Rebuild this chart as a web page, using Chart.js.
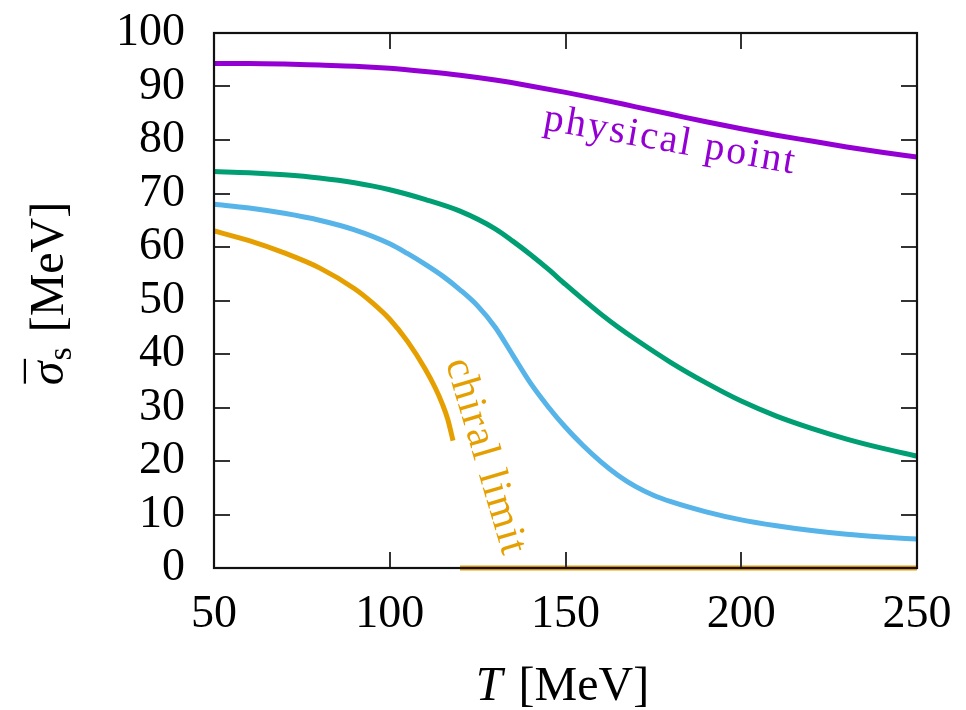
<!DOCTYPE html>
<html>
<head>
<meta charset="utf-8">
<script src="https://cdn.jsdelivr.net/npm/chart.js@4/dist/chart.umd.min.js"></script>
<style>
html,body{margin:0;padding:0;background:#ffffff;}
#wrap{width:966px;height:710px;}
</style>
</head>
<body>
<div id="wrap"><canvas id="c" width="966" height="710"></canvas></div>
<script>
// ---- data ----
const physicalT   = [50,60,70,80,90,100,110,120,130,140,150,160,170,180,190,200,210,220,230,240,250];
const physicalVal = [94.3,94.3,94.2,94.0,93.8,93.4,92.8,92.1,91.2,90.1,88.9,87.6,86.2,84.8,83.4,82.1,80.9,79.8,78.7,77.7,76.8];

const greenT   = [50,60,70,80,90,100,110,120,130,135,140,145,150,155,160,165,170,180,190,200,210,220,230,240,250];
const greenVal = [74.1,73.9,73.5,72.9,72.0,70.7,68.9,66.7,63.4,61.1,58.6,55.9,53.0,50.2,47.5,45.0,42.7,38.4,34.6,31.2,28.4,26.1,24.1,22.4,20.9];

const blueT   = [50,60,70,80,90,100,105,110,115,120,125,130,135,140,145,150,155,160,165,170,175,180,190,200,210,220,230,240,250];
const blueVal = [68.0,67.3,66.3,65.0,63.2,60.6,58.8,56.8,54.6,52.0,49.0,45.0,39.8,34.6,30.2,26.3,22.9,19.9,17.3,15.2,13.6,12.4,10.5,9.0,7.9,7.0,6.3,5.8,5.4];

const chiralT   = [50,60,70,80,90,95,100,105,110,113,115,116.5,118];
const chiralVal = [63.0,61.2,58.9,56.1,52.2,49.6,46.5,42.4,37.3,33.6,30.6,27.8,23.8];

const chiralZeroT   = [120,250];
const chiralZeroVal = [0,0];

const xTickValues = [50,100,150,200,250];
const yTickValues = [0,10,20,30,40,50,60,70,80,90,100];

const xTitleItalic = 'T';
const xTitleRest = '[MeV]';
const yTitleSymbol = 'σ';
const yTitleBar = '\u00AF';
const yTitleSub = 's';
const yTitleRest = '[MeV]';

const labelPhysical = 'physical point';
const labelChiral = 'chiral limit';
// anchor points of the curve labels, in data units (T, value)
const labelPhysicalAt = [143.4, 82.0];
const labelChiralAt = [115.9, 38.4];

// ---- helpers ----
const pts = (xs, ys) => xs.map((x, i) => ({x: x, y: ys[i]}));
const COL = {purple:'#9400D3', green:'#009E73', blue:'#56B4E9', orange:'#E69F00'};
const SERIF = '"Liberation Serif", "DejaVu Serif", serif';

const framePlugin = {
  id: 'frame',
  afterDatasetsDraw(chart) {
    const {ctx, chartArea: a, scales} = chart;
    const tl = 16;
    ctx.save();
    ctx.strokeStyle = '#333';
    ctx.lineWidth = 2;
    ctx.beginPath();
    xTickValues.forEach(v => {
      const px = Math.round(scales.x.getPixelForValue(v));
      ctx.moveTo(px, a.bottom); ctx.lineTo(px, a.bottom - tl);
      ctx.moveTo(px, a.top); ctx.lineTo(px, a.top + tl);
    });
    yTickValues.forEach(v => {
      const py = Math.round(scales.y.getPixelForValue(v));
      ctx.moveTo(a.left, py); ctx.lineTo(a.left + tl, py);
      ctx.moveTo(a.right, py); ctx.lineTo(a.right - tl, py);
    });
    ctx.stroke();
    ctx.strokeStyle = '#111';
    ctx.lineWidth = 2.2;
    ctx.strokeRect(a.left, a.top, a.right - a.left, a.bottom - a.top);
    ctx.restore();
  }
};

const textPlugin = {
  id: 'texts',
  afterDraw(chart) {
    const {ctx, chartArea: a, scales} = chart;
    ctx.save();
    ctx.fillStyle = '#000';
    const fI = 'italic 48px ' + SERIF, fR = '48px ' + SERIF;
    const gap = 16;
    // x title
    ctx.textBaseline = 'middle';
    ctx.textAlign = 'left';
    ctx.font = fI; const w1 = ctx.measureText(xTitleItalic).width;
    ctx.font = fR; const w2 = ctx.measureText(xTitleRest).width;
    const x0 = (a.left + a.right) / 2 - (w1 + gap + w2) / 2 - 3;
    const yx = 687;
    ctx.font = fI; ctx.fillText(xTitleItalic, x0, yx);
    ctx.font = fR; ctx.fillText(xTitleRest, x0 + w1 + gap, yx);

    // y title (rotated)
    ctx.save();
    const cy = (a.top + a.bottom) / 2 - 7;
    ctx.translate(47, cy);
    ctx.rotate(-Math.PI / 2);
    const fSub = '34px ' + SERIF;
    ctx.font = fI; const s1 = ctx.measureText(yTitleSymbol).width;
    ctx.font = fSub; const s2 = ctx.measureText(yTitleSub).width;
    ctx.font = fR; const s3 = ctx.measureText(yTitleRest).width;
    const lx = -(s1 + s2 + gap + s3) / 2;
    ctx.textBaseline = 'alphabetic';
    const base = 16;
    ctx.font = fI; ctx.fillText(yTitleSymbol, lx, base);
    ctx.font = fR; ctx.fillText(yTitleBar, lx + 2, base - 2);
    ctx.font = fSub; ctx.fillText(yTitleSub, lx + s1 + 1, base + 8);
    ctx.font = fR; ctx.fillText(yTitleRest, lx + s1 + s2 + gap, base);
    ctx.restore();

    // curve labels
    const drawLabel = (txt, at, angleDeg, color, size, spacing) => {
      ctx.save();
      ctx.translate(scales.x.getPixelForValue(at[0]), scales.y.getPixelForValue(at[1]));
      ctx.rotate(angleDeg * Math.PI / 180);
      ctx.font = size + 'px ' + SERIF;
      ctx.fillStyle = color;
      ctx.textAlign = 'left';
      ctx.textBaseline = 'alphabetic';
      try { ctx.letterSpacing = spacing + 'px'; } catch (e) {}
      ctx.fillText(txt, 0, 0);
      ctx.restore();
    };
    drawLabel(labelPhysical, labelPhysicalAt, 10, COL.purple, 40, 2.2);
    drawLabel(labelChiral, labelChiralAt, 73.5, COL.orange, 42, 1.5);
    ctx.restore();
  }
};

const common = {pointRadius: 0, borderWidth: 5, fill: false, cubicInterpolationMode: 'monotone', showLine: true};

new Chart(document.getElementById('c'), {
  type: 'line',
  data: {
    datasets: [
      Object.assign({label: 'physical point', data: pts(physicalT, physicalVal), borderColor: COL.purple, order: 3}, common),
      Object.assign({label: 'green', data: pts(greenT, greenVal), borderColor: COL.green, order: 2}, common),
      Object.assign({label: 'blue', data: pts(blueT, blueVal), borderColor: COL.blue, order: 1}, common),
      Object.assign({label: 'chiral limit', data: pts(chiralT, chiralVal), borderColor: COL.orange, order: 0}, common),
      Object.assign({label: 'chiral limit (zero)', data: pts(chiralZeroT, chiralZeroVal), borderColor: COL.orange, order: 0, clip: false}, common)
    ]
  },
  options: {
    responsive: false,
    animation: false,
    layout: {padding: {top: 33, right: 49, left: 0, bottom: 0}},
    plugins: {legend: {display: false}, tooltip: {enabled: false}},
    scales: {
      x: {
        type: 'linear', min: 50, max: 250,
        afterBuildTicks: s => { s.ticks = xTickValues.map(v => ({value: v})); },
        afterFit: s => { s.height = 142; s.paddingLeft = 0; s.paddingRight = 0; },
        grid: {display: false, drawTicks: false},
        border: {display: false},
        ticks: {color: '#000', padding: 24, maxRotation: 0, autoSkip: false,
                font: {family: SERIF, size: 46, lineHeight: 1}}
      },
      y: {
        type: 'linear', min: 0, max: 100,
        afterBuildTicks: s => { s.ticks = yTickValues.map(v => ({value: v})); },
        afterFit: s => { s.width = 214; s.paddingTop = 0; s.paddingBottom = 0; },
        grid: {display: false, drawTicks: false},
        border: {display: false},
        ticks: {color: '#000', padding: 29, autoSkip: false,
                font: {family: SERIF, size: 46, lineHeight: 1}}
      }
    }
  },
  plugins: [framePlugin, textPlugin]
});
</script>
</body>
</html>
